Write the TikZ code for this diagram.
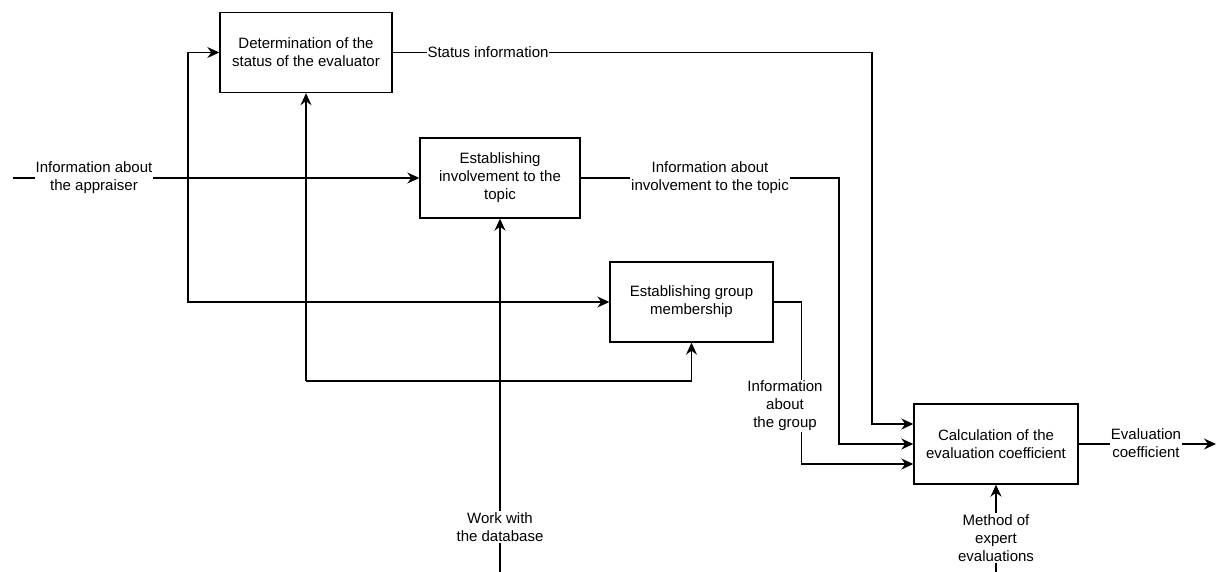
\documentclass[tikz,border=0pt]{standalone}
\usepackage{fontspec}
\setmainfont{Liberation Sans}
\usetikzlibrary{arrows.meta}
\begin{document}
\begin{tikzpicture}[x=1pt,y=1pt,
  every node/.style={font=\fontsize{15pt}{18pt}\selectfont, align=center},
  func/.style={draw, line width=1.4pt, minimum height=80pt, inner sep=0pt},
  conn/.style={line width=1.2pt},
  flow/.style={conn, -{Stealth[length=12pt,width=11pt,inset=4pt]}},
  tag/.style={fill=white, inner sep=1pt}]
\useasboundingbox (0,0) rectangle (1217,-572);

% function blocks
\node[func, minimum width=172pt] (status) at (306,-52.5)
  {Determination of the\\status of the evaluator};
\node[func, minimum width=160pt] (involve) at (500,-178)
  {Establishing\\involvement to the\\topic};
\node[func, minimum width=163pt] (group) at (691.5,-302)
  {Establishing group\\membership};
\node[func, minimum width=164pt] (calc) at (996,-444)
  {Calculation of the\\evaluation coefficient};

% free ends and branch points
\coordinate (appIn) at (13,-178);
\coordinate (appSplit) at (188,-178);
\coordinate (mechSplit) at (306,-381);
\coordinate (dbIn) at (500,-572);
\coordinate (methIn) at (996,-572);
\coordinate (coefOut) at (1216,-444);

% inputs
\draw[flow] (appIn) -- (involve.west);
\draw[flow] (appSplit) |- (status.west);
\draw[flow] (appSplit) |- (group.west);
\draw[flow] (mechSplit) -- (status.south);
\draw[flow] (mechSplit) -| (group.south);
\draw[flow] (dbIn) -- (involve.south);
\draw[flow] (methIn) -- (calc.south);

% outputs feeding the calculation
\draw[flow] (status.east) -- (872,-52.5) |- ([yshift=20pt]calc.west);
\draw[flow] (involve.east) -- (839,-178) |- (calc.west);
\draw[flow] (group.east) -- (801.5,-302) |- ([yshift=-20pt]calc.west);
\draw[flow] (calc.east) -- (coefOut);

% arrow labels
\node[tag] (lApp) at (94,-178) {Information about\\the appraiser};
\node[tag] (lStatus) at (488,-52.5) {Status information};
\node[tag] (lInv) at (710,-178) {Information about\\involvement to the topic};
\node[tag] (lGroup) at (785,-406) {Information\\about\\the group};
\node[tag] (lDb) at (500,-527) {Work with\\the database};
\node[tag] (lMeth) at (996,-538) {Method of\\expert\\evaluations};
\node[tag] (lCoef) at (1146,-443.5) {Evaluation\\coefficient};
\end{tikzpicture}
\end{document}
